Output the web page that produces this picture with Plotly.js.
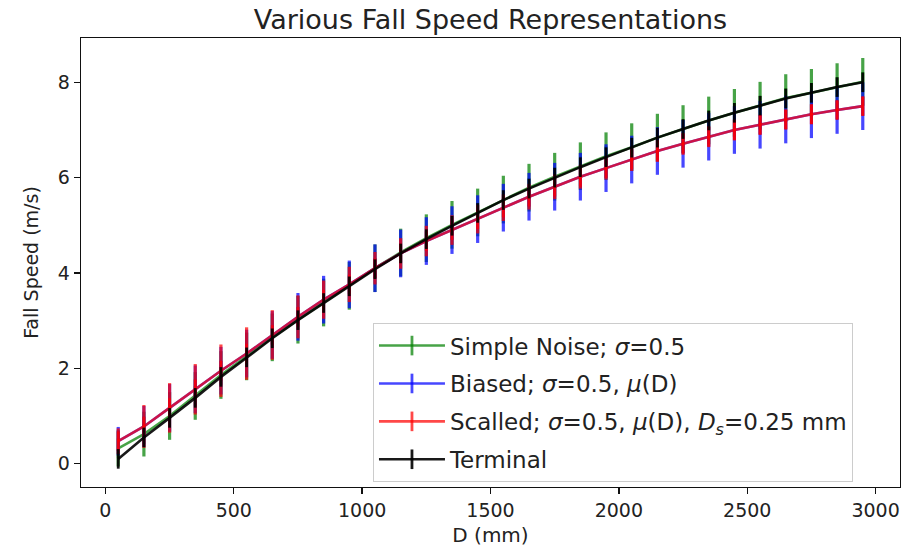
<!DOCTYPE html>
<html>
<head>
<meta charset="utf-8">
<script src="https://cdn.plot.ly/plotly-3.0.1.min.js"></script>
<style>html,body{margin:0;padding:0;background:#fff;}#chart{width:907px;height:552px;}</style>
</head>
<body>
<div id="chart"></div>
<script>
const diameters = [50,150,250,350,450,550,650,750,850,950,1050,1150,1250,1350,1450,1550,1650,1750,1850,1950,2050,2150,2250,2350,2450,2550,2650,2750,2850,2950];

const simpleNoise = [0.32,0.62,1.0,1.42,1.86,2.25,2.65,3.02,3.38,3.73,4.1,4.43,4.73,5.01,5.27,5.54,5.79,6.02,6.24,6.45,6.64,6.84,7.02,7.2,7.36,7.51,7.67,7.78,7.9,8.01];
const simpleNoiseErr = [0.38,0.47,0.5,0.5,0.5,0.5,0.5,0.5,0.5,0.5,0.5,0.5,0.5,0.5,0.5,0.5,0.5,0.5,0.5,0.5,0.5,0.5,0.5,0.5,0.5,0.5,0.5,0.5,0.5,0.5];

const biased = [0.47,0.78,1.17,1.56,1.95,2.31,2.7,3.08,3.44,3.76,4.1,4.41,4.67,4.9,5.13,5.37,5.6,5.81,6.02,6.2,6.38,6.56,6.71,6.86,7.0,7.11,7.22,7.33,7.42,7.5];
const biasedErr = [0.3,0.43,0.5,0.5,0.5,0.5,0.5,0.5,0.5,0.5,0.5,0.5,0.5,0.5,0.5,0.5,0.5,0.5,0.5,0.5,0.5,0.5,0.5,0.5,0.5,0.5,0.5,0.5,0.5,0.5];

const scaled = [0.47,0.78,1.17,1.56,1.95,2.31,2.7,3.08,3.44,3.76,4.1,4.41,4.67,4.9,5.13,5.37,5.6,5.81,6.02,6.2,6.38,6.56,6.71,6.86,7.0,7.11,7.22,7.33,7.42,7.5];
const scaledErr = [0.27,0.45,0.52,0.53,0.55,0.55,0.52,0.45,0.4,0.37,0.34,0.32,0.32,0.31,0.3,0.28,0.27,0.26,0.25,0.24,0.24,0.23,0.23,0.22,0.22,0.21,0.21,0.21,0.2,0.2];

const terminal = [0.1,0.55,0.96,1.38,1.82,2.23,2.63,3.01,3.37,3.72,4.08,4.41,4.71,4.99,5.26,5.53,5.77,6.0,6.22,6.43,6.63,6.84,7.02,7.2,7.36,7.51,7.66,7.78,7.9,8.0];

const seriesNames = [
  "Simple Noise; <i>σ</i>=0.5",
  "Biased; <i>σ</i>=0.5, <i>μ</i>(D)",
  "Scalled; <i>σ</i>=0.5, <i>μ</i>(D), <i>D<sub>s</sub></i>=0.25 mm",
  "Terminal"
];
const xTicks = [0,500,1000,1500,2000,2500,3000];
const yTicks = [0,2,4,6,8];

const FONT = "'DejaVu Sans', sans-serif";

function mk(y, err, color, name, group) {
  const t = {
    x: diameters, y: y, name: name, type: 'scatter', mode: 'lines+markers',
    legendgroup: group,
    line: {color: color, width: 2.6},
    marker: {symbol: 'line-ns-open', size: 14, color: color, line: {color: color, width: 2.8}},
    hoverinfo: 'x+y'
  };
  if (err) t.error_y = {type: 'data', array: err, visible: true, color: color, thickness: 3.2, width: 0};
  return t;
}

const data = [
  mk(simpleNoise, simpleNoiseErr, 'rgba(0,128,0,0.72)', seriesNames[0], 'g1'),
  mk(biased, biasedErr, 'rgba(0,0,255,0.72)', seriesNames[1], 'g2'),
  mk(scaled, scaledErr, 'rgba(255,0,0,0.72)', seriesNames[2], 'g3'),
  mk(terminal, null, 'rgba(0,0,0,0.9)', seriesNames[3], 'g4')
];

const axisCommon = {
  showline: true, mirror: true, linecolor: '#111', linewidth: 1.3,
  ticks: 'outside', ticklen: 6, tickwidth: 1.3, tickcolor: '#111',
  showgrid: false, zeroline: false,
  tickfont: {family: FONT, size: 19, color: '#222'}
};

const layout = {
  width: 907, height: 552,
  paper_bgcolor: '#fff', plot_bgcolor: '#fff',
  margin: {l: 81, r: 7, t: 38, b: 65},
  font: {family: FONT, color: '#222'},
  title: {text: 'Various Fall Speed Representations', xref: 'paper', x: 0.5, xanchor: 'center',
          yref: 'container', y: 0.965, yanchor: 'middle',
          font: {family: FONT, size: 27, color: '#222'}},
  xaxis: Object.assign({}, axisCommon, {
    range: [-95, 3095], tickvals: xTicks, ticktext: xTicks.map(String),
    title: {text: 'D (mm)', font: {family: FONT, size: 20, color: '#222'}, standoff: 8}
  }),
  yaxis: Object.assign({}, axisCommon, {
    range: [-0.49, 8.93], tickvals: yTicks, ticktext: yTicks.map(String),
    title: {text: 'Fall Speed (m/s)', font: {family: FONT, size: 19, color: '#222'}, standoff: 14}
  }),
  showlegend: true,
  legend: {
    x: 0.3565, y: 0.365, xanchor: 'left', yanchor: 'top',
    bgcolor: 'rgba(255,255,255,0.85)', bordercolor: '#cccccc', borderwidth: 1,
    font: {family: FONT, size: 23, color: '#222'},
    itemwidth: 66,
    traceorder: 'grouped', tracegroupgap: 5
  }
};

Plotly.newPlot('chart', data, layout, {displayModeBar: false, staticPlot: true});
</script>
</body>
</html>
